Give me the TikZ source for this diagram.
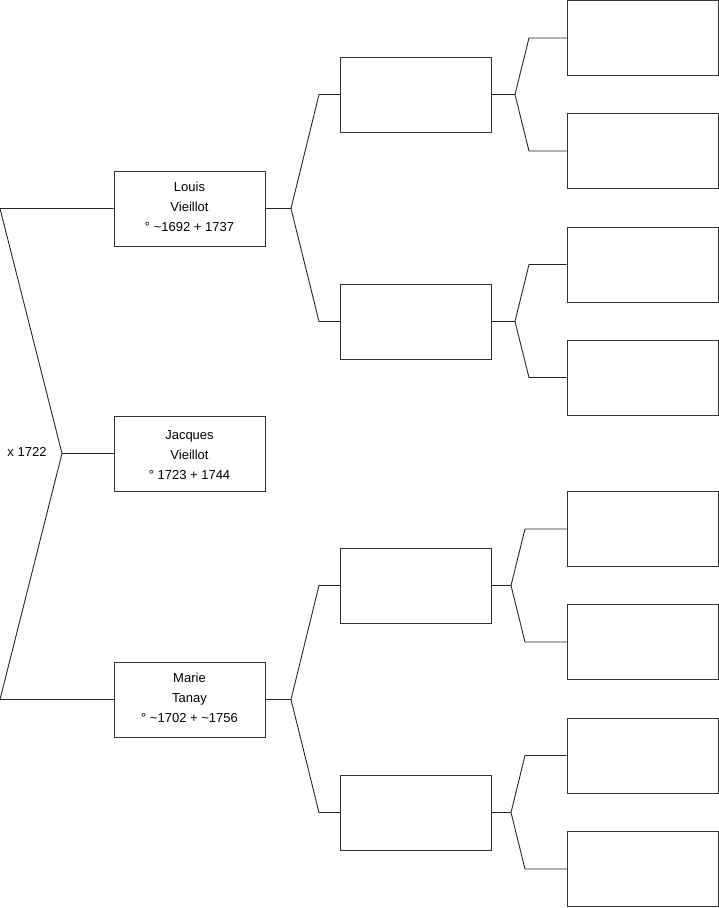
\documentclass[tikz,border=0pt]{standalone}
\usepackage{fontspec}
\setmainfont{Liberation Sans}
\begin{document}
\begin{tikzpicture}[x=1pt,y=-1pt,
  person/.style={draw=black!80,line width=0.9pt,minimum width=151pt,minimum height=75pt,inner sep=0pt,align=center,font=\fontsize{13}{20}\selectfont},
  link/.style={draw=black!85,line width=0.9pt}]
\useasboundingbox (0,0) rectangle (719,908);
% generation 1
\node[person] (louis) at (189.5,208.5) {Louis\\Vieillot\\° \textasciitilde1692 + 1737\rule[-4pt]{0pt}{0pt}};
\node[person] (jacques) at (189.5,453.5) {\rule{0pt}{15.5pt}Jacques\\Vieillot\\° 1723 + 1744\rule[-4pt]{0pt}{0pt}};
\node[person] (marie) at (189.5,699.5) {Marie\\Tanay\\° \textasciitilde1702 + \textasciitilde1756\rule[-4pt]{0pt}{0pt}};
\node[font=\fontsize{13}{14}\selectfont] (mar) at (27,452) {x 1722};
% generation 2
\node[person] (fa) at (416,94.5) {};
\node[person] (fb) at (416,321.5) {};
\node[person] (fc) at (416,585.5) {};
\node[person] (fd) at (416,812.5) {};
% generation 3
\node[person] (ga) at (642.5,38) {};
\node[person] (gb) at (642.5,151) {};
\node[person] (gc) at (642.5,264.5) {};
\node[person] (gd) at (642.5,377.5) {};
\node[person] (ge) at (642.5,529) {};
\node[person] (gf) at (642.5,642) {};
\node[person] (gg) at (642.5,755.5) {};
\node[person] (gh) at (642.5,869) {};
% left connector
\coordinate (lt) at (0,208.5);
\coordinate (lm) at (62,453.5);
\coordinate (lb) at (0,699.5);
\draw[link] (louis.west) -- (lt) -- (lm) -- (lb) -- (marie.west);
\draw[link] (lm) -- (jacques.west);
% gen1 -> gen2
\coordinate (v1) at (291,208.5);
\draw[link] (louis.east) -- (v1) -- (319,94.5) -- (fa.west);
\draw[link] (v1) -- (319,321.5) -- (fb.west);
\coordinate (v2) at (291,699.5);
\draw[link] (marie.east) -- (v2) -- (319,585.5) -- (fc.west);
\draw[link] (v2) -- (319,812.5) -- (fd.west);
% gen2 -> gen3
\coordinate (wa) at (515,94.5);
\draw[link] (fa.east) -- (wa) -- (529,38) -- (ga.west);
\draw[link] (wa) -- (529,151) -- (gb.west);
\coordinate (wb) at (515,321.5);
\draw[link] (fb.east) -- (wb) -- (529,264.5) -- (gc.west);
\draw[link] (wb) -- (529,377.5) -- (gd.west);
\coordinate (wc) at (511,585.5);
\draw[link] (fc.east) -- (wc) -- (525,529) -- (ge.west);
\draw[link] (wc) -- (525,642) -- (gf.west);
\coordinate (wd) at (511,812.5);
\draw[link] (fd.east) -- (wd) -- (525,755.5) -- (gg.west);
\draw[link] (wd) -- (525,869) -- (gh.west);
\end{tikzpicture}
\end{document}
